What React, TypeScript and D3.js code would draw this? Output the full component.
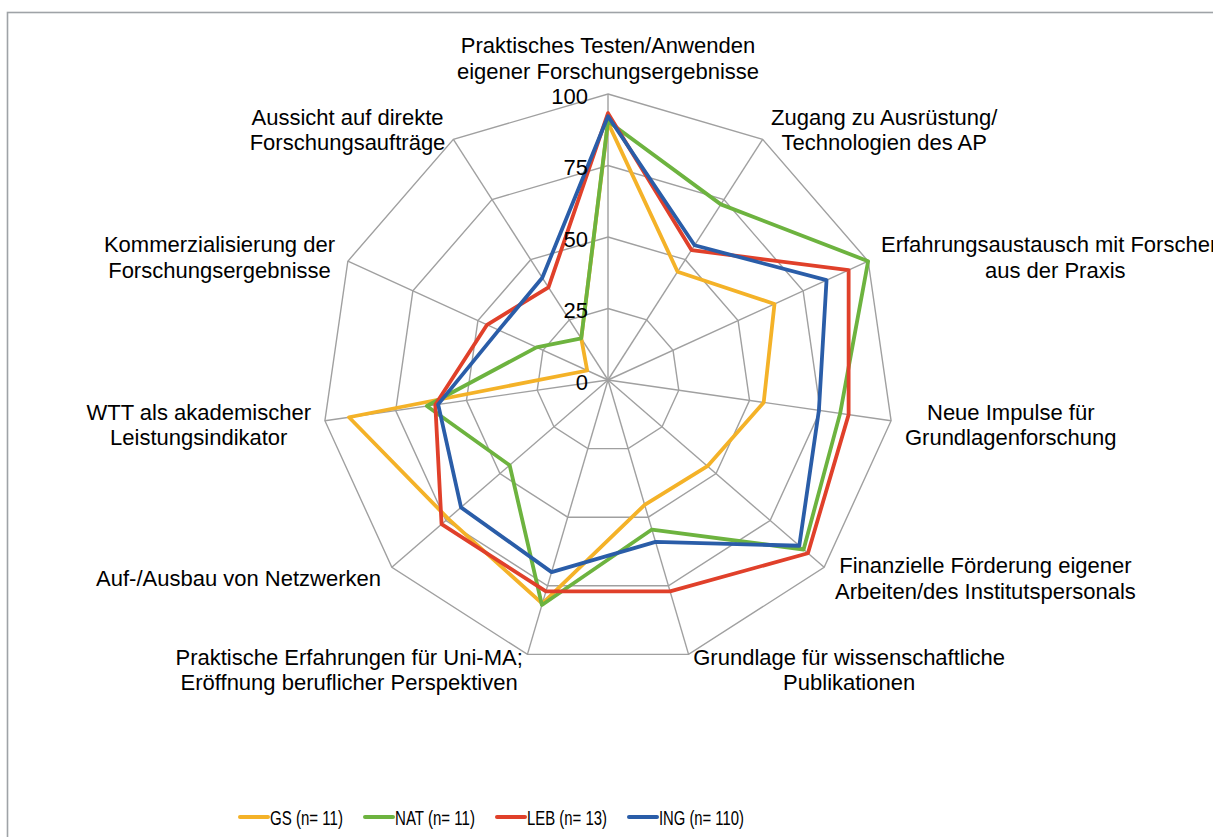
import React, { useEffect, useRef } from "react";
import * as d3 from "d3";

const categories: string[][] = [
  ["Praktisches Testen/Anwenden", "eigener Forschungsergebnisse"],
  ["Zugang zu Ausrüstung/", "Technologien des AP"],
  ["Erfahrungsaustausch mit Forschern", "aus der Praxis"],
  ["Neue Impulse für", "Grundlagenforschung"],
  ["Finanzielle Förderung eigener", "Arbeiten/des Institutspersonals"],
  ["Grundlage für wissenschaftliche", "Publikationen"],
  ["Praktische Erfahrungen für Uni-MA;", "Eröffnung beruflicher Perspektiven"],
  ["Auf-/Ausbau von Netzwerken"],
  ["WTT als akademischer", "Leistungsindikator"],
  ["Kommerzialisierung der", "Forschungsergebnisse"],
  ["Aussicht auf direkte", "Forschungsaufträge"],
];

const seriesNames = ["GS (n= 11)", "NAT (n= 11)", "LEB (n= 13)", "ING (n= 110)"];
const gsValues = [90, 45, 64, 55, 46, 45.5, 81.5, 74, 91.5, 8, 17.3];
const natValues = [90.5, 73, 100, 82, 90.5, 54.5, 82, 45.5, 64, 27.5, 17.3];
const lebValues = [93.3, 54, 92.5, 85, 92.5, 77, 77, 77, 61, 46.5, 38.5];
const ingValues = [92.2, 56, 84, 74.5, 88.5, 59, 70, 68, 60, 42, 42.5];
const tickValues = [0, 25, 50, 75, 100];

const colors = ["#F4B228", "#6DB33F", "#E0402A", "#2A5DA8"];

export default function App() {
  const ref = useRef<SVGSVGElement | null>(null);

  useEffect(() => {
    const svg = d3.select(ref.current);
    svg.selectAll("*").remove();
    const W = 1213, H = 837;
    const cx = 608, cy = 380, R = 286;
    const n = categories.length;
    const font = "'Liberation Sans', Arial, sans-serif";
    const fs = 22;
    const lineH = 25.5;
    const r = d3.scaleLinear().domain([0, 100]).range([0, R]);
    const ang = (i: number) => -Math.PI / 2 + (i * 2 * Math.PI) / n;

    svg.append("rect").attr("x", 7.5).attr("y", 12.5).attr("width", W + 20).attr("height", H + 20)
      .attr("fill", "none").attr("stroke", "#9fa3a7").attr("stroke-width", 1.6);

    const g = svg.append("g");
    const ringLine = d3.lineRadial<number>()
      .angle((_d, i) => (i * 2 * Math.PI) / n)
      .radius((d) => r(d))
      .curve(d3.curveLinearClosed);
    tickValues.filter((t) => t > 0).forEach((t) => {
      g.append("path")
        .attr("transform", `translate(${cx},${cy})`)
        .attr("d", ringLine(categories.map(() => t)) as string)
        .attr("fill", "none").attr("stroke", "#a0a0a0").attr("stroke-width", 1.4);
    });
    categories.forEach((_c, i) => {
      g.append("line")
        .attr("x1", cx).attr("y1", cy)
        .attr("x2", cx + r(100) * Math.cos(ang(i)))
        .attr("y2", cy + r(100) * Math.sin(ang(i)))
        .attr("stroke", "#a0a0a0").attr("stroke-width", 1.4);
    });

    const allSeries = [gsValues, natValues, lebValues, ingValues];
    allSeries.forEach((vals, si) => {
      g.append("path")
        .attr("transform", `translate(${cx},${cy})`)
        .attr("d", ringLine(vals) as string)
        .attr("fill", "none").attr("stroke", colors[si]).attr("stroke-width", 3.8)
        .attr("stroke-linejoin", "round");
    });

    tickValues.forEach((t) => {
      svg.append("text")
        .attr("x", cx - 20).attr("y", cy - r(t) + 2)
        .attr("dy", "0.35em")
        .attr("text-anchor", "end")
        .attr("font-family", font).attr("font-size", fs).attr("fill", "#000")
        .text(String(t));
    });

    categories.forEach((lines, i) => {
      const a = ang(i);
      const dx = Math.cos(a), dy = Math.sin(a);
      const vx = cx + R * dx, vy = cy + R * dy;
      const tg = svg.append("g");
      lines.forEach((ln, k) => {
        tg.append("text")
          .attr("x", 0)
          .attr("y", (k - (lines.length - 1) / 2) * lineH)
          .attr("dy", "0.35em")
          .attr("text-anchor", "middle")
          .attr("font-family", font).attr("font-size", fs).attr("fill", "#000")
          .text(ln);
      });
      const bw = (tg.node() as SVGGElement).getBBox().width;
      let tx: number, ty: number;
      if (Math.abs(dx) < 0.1) {
        tx = vx;
        ty = vy - 10 - (lines.length * lineH) / 2;
      } else {
        const pad = 13 * Math.abs(dx) + 1;
        tx = dx > 0 ? vx + pad + bw / 2 : vx - pad - bw / 2;
        ty = vy + dy * 14 + 2;
      }
      tg.attr("transform", `translate(${tx},${ty})`);
    });

    const legendY = 817;
    const textLens = [73, 80, 80, 85];
    let lx = 240;
    seriesNames.forEach((name, si) => {
      svg.append("line")
        .attr("x1", lx).attr("x2", lx + 28).attr("y1", legendY).attr("y2", legendY)
        .attr("stroke", colors[si]).attr("stroke-width", 4).attr("stroke-linecap", "round");
      const t = svg.append("text")
        .attr("x", 0).attr("y", 0)
        .attr("dy", "0.35em")
        .attr("font-family", font).attr("font-size", 21).attr("fill", "#000")
        .text(name);
      const natural = (t.node() as SVGTextElement).getComputedTextLength();
      const sx = textLens[si] / natural;
      t.attr("transform", `translate(${lx + 30},${legendY + 1}) scale(${sx},1)`);
      lx += 30 + textLens[si] + 22;
    });
  }, []);

  return (
    <svg
      ref={ref}
      width={1213}
      height={837}
      style={{ position: "absolute", left: 0, top: 0, background: "#fff" }}
    />
  );
}
